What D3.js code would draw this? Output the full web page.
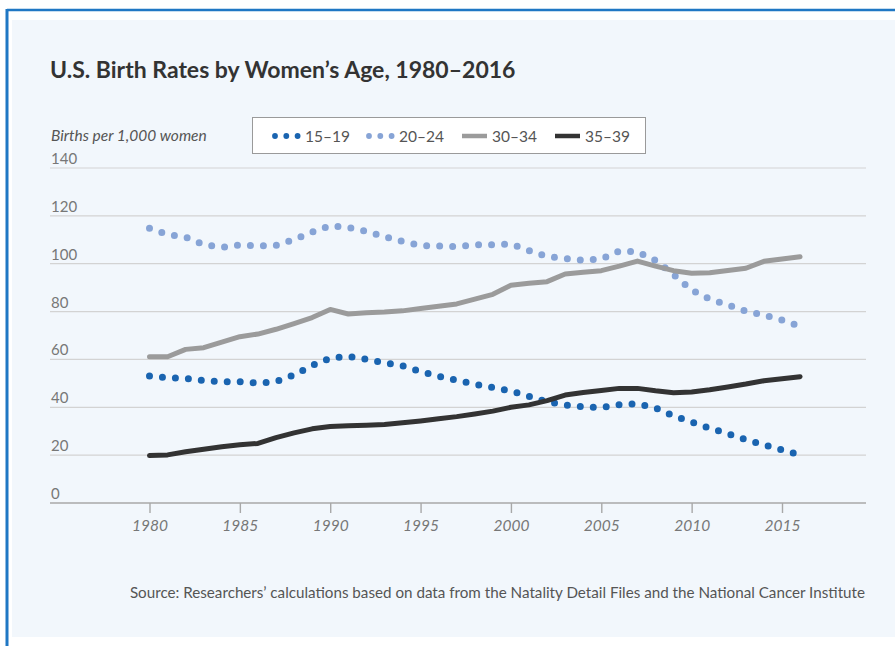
<!DOCTYPE html>
<html>
<head>
  <meta charset="UTF-8">
  <title>U.S. Birth Rates by Women's Age</title>
  <style>
    body{
        margin: 0;
        background-color: #ffffff;
    }
    svg{
        display: block;
        font-family: Lato, "Open Sans", sans-serif;
    }
  </style>
</head>
<body>
<svg></svg>
<script src="https://cdn.jsdelivr.net/npm/d3@7"></script>

<script>

// data (births per 1,000 women)
let years = d3.range(1980, 2017);

let rate15_19 = [53.1, 52.3, 52.1, 51.2, 50.6, 50.7, 50.1, 50.7, 53.5, 57.5,
    60.5, 61.3, 60.1, 58.6, 57.3, 55.0, 52.9, 51.3, 49.6, 48.3,
    46.8, 44.6, 42.3, 41.0, 40.2, 39.9, 41.1, 41.5, 39.7, 36.4,
    33.8, 31.3, 29.0, 26.5, 24.3, 22.2, 20.1];

let rate20_24 = [114.8, 112.2, 111.1, 108.0, 106.8, 107.8, 107.4, 107.7, 110.1, 113.2,
    115.8, 115.1, 113.6, 111.3, 109.3, 107.6, 107.4, 107.2, 107.9, 107.9,
    108.2, 105.5, 103.0, 102.2, 101.4, 102.0, 105.3, 105.0, 101.4, 95.5,
    89.0, 85.2, 82.8, 80.2, 78.5, 76.5, 73.8];

let rate30_34 = [61.1, 61.1, 64.2, 64.9, 67.2, 69.5, 70.6, 72.6, 75.0, 77.5,
    80.9, 79.0, 79.5, 79.8, 80.3, 81.3, 82.2, 83.2, 85.2, 87.2,
    91.0, 91.8, 92.5, 95.7, 96.4, 97.1, 99.0, 101.1, 99.0, 97.1,
    96.0, 96.2, 97.2, 98.1, 101.0, 102.0, 102.9];

let rate35_39 = [19.8, 20.1, 21.4, 22.5, 23.5, 24.3, 24.9, 27.3, 29.3, 31.0,
    32.0, 32.3, 32.5, 32.8, 33.5, 34.3, 35.2, 36.1, 37.2, 38.4,
    40.0, 41.0, 42.8, 45.1, 46.2, 47.0, 47.9, 47.9, 46.9, 46.1,
    46.4, 47.3, 48.5, 49.7, 51.1, 51.9, 52.8];

let seriesNames = ["15–19", "20–24", "30–34", "35–39"];
let yTicks = [0, 20, 40, 60, 80, 100, 120, 140];
let xTicks = [1980, 1985, 1990, 1995, 2000, 2005, 2010, 2015];

let width = 895, height = 646;

let svg = d3.select("svg")
    .attr("width", width)
    .attr("height", height);

// frame: blue rule on top and left, light panel inside
svg.append("rect")
    .attr("x", 12).attr("y", 20)
    .attr("width", width - 12).attr("height", 617)
    .attr("fill", "#f2f7fc");
svg.append("line")
    .attr("x1", 7).attr("x2", width)
    .attr("y1", 10).attr("y2", 10)
    .attr("stroke", "#1f77c4").attr("stroke-width", 2.5);
svg.append("line")
    .attr("x1", 7).attr("x2", 7)
    .attr("y1", 9).attr("y2", height)
    .attr("stroke", "#1f77c4").attr("stroke-width", 3);

svg.append("text")
    .attr("x", 50).attr("y", 78)
    .attr("fill", "#333")
    .attr("font-size", 23)
    .attr("font-weight", "bold")
    .text("U.S. Birth Rates by Women’s Age, 1980–2016");

// scales
let x = d3.scaleLinear()
    .domain([1980, 2015])
    .range([149.5, 782]);

let y = d3.scaleLinear()
    .domain([0, 140])
    .range([503, 168]);

let gridLeft = 50, gridRight = 866;

// horizontal grid
svg.append("g")
    .selectAll("line")
    .data(yTicks)
    .enter().append("line")
    .attr("x1", gridLeft).attr("x2", gridRight)
    .attr("y1", d => y(d)).attr("y2", d => y(d))
    .attr("stroke", d => d === 0 ? "#a8a8a8" : "#d3d3d3")
    .attr("stroke-width", d => d === 0 ? 1.6 : 1.2);

svg.append("g")
    .selectAll("text")
    .data(yTicks)
    .enter().append("text")
    .attr("x", 51)
    .attr("y", d => y(d) - 4)
    .attr("fill", "#777")
    .attr("font-size", 15)
    .text(d => d);

svg.append("text")
    .attr("x", 51).attr("y", 141)
    .attr("fill", "#555")
    .attr("font-size", 15.5)
    .attr("font-style", "italic")
    .text("Births per 1,000 women");

// x axis
let xAxis = svg.append("g")
    .attr("transform", "translate(0," + y(0) + ")")
    .call(d3.axisBottom(x)
        .tickValues(xTicks)
        .tickFormat(d3.format("d"))
        .tickSize(10)
        .tickPadding(7));
xAxis.select(".domain").remove();
xAxis.selectAll(".tick line").attr("stroke", "#a8a8a8").attr("stroke-width", 1.4);
xAxis.selectAll(".tick text")
    .attr("fill", "#777")
    .attr("font-size", 15.5)
    .attr("font-style", "italic")
    .attr("font-family", "Lato, sans-serif");

// lines
let line = d3.line()
    .x((d, i) => x(years[i]))
    .y(d => y(d));

let series = [
    {values: rate15_19, color: "#1a64b0", dotted: true},
    {values: rate20_24, color: "#87a4d6", dotted: true},
    {values: rate30_34, color: "#9b9b9b", dotted: false},
    {values: rate35_39, color: "#333333", dotted: false}
];

svg.append("g")
    .selectAll("path")
    .data(series)
    .enter().append("path")
    .attr("d", d => line(d.values))
    .attr("fill", "none")
    .attr("stroke", d => d.color)
    .attr("stroke-width", d => d.dotted ? 7 : 5)
    .attr("stroke-linecap", "round")
    .attr("stroke-linejoin", "round")
    .attr("stroke-dasharray", d => d.dotted ? "0,13" : null);

// legend
let legend = svg.append("g");
legend.append("rect")
    .attr("x", 252.5).attr("y", 117.5)
    .attr("width", 393).attr("height", 36)
    .attr("fill", "#fff")
    .attr("stroke", "#9a9a9a");

let legendX = [272, 366, 462, 555];
let item = legend.selectAll("g.item")
    .data(series)
    .enter().append("g")
    .attr("class", "item")
    .attr("transform", (d, i) => "translate(" + legendX[i] + ",136)");

item.filter(d => d.dotted)
    .selectAll("circle")
    .data(d => [0, 1, 2].map(k => ({k: k, color: d.color})))
    .enter().append("circle")
    .attr("cx", d => 3 + d.k * 11.3)
    .attr("cy", 0)
    .attr("r", 2.9)
    .attr("fill", d => d.color);

item.filter(d => !d.dotted)
    .append("line")
    .attr("x1", 0).attr("x2", 25)
    .attr("stroke", d => d.color)
    .attr("stroke-width", 4.5);

item.append("text")
    .attr("x", d => d.dotted ? 33 : 30).attr("y", 5.5)
    .attr("fill", "#555")
    .attr("font-size", 15.5)
    .text((d, i) => seriesNames[i]);

svg.append("text")
    .attr("x", 865).attr("y", 598)
    .attr("text-anchor", "end")
    .attr("fill", "#555")
    .attr("font-size", 15.2)
    .text("Source: Researchers’ calculations based on data from the Natality Detail Files and the National Cancer Institute");

</script>

</body>
</html>
